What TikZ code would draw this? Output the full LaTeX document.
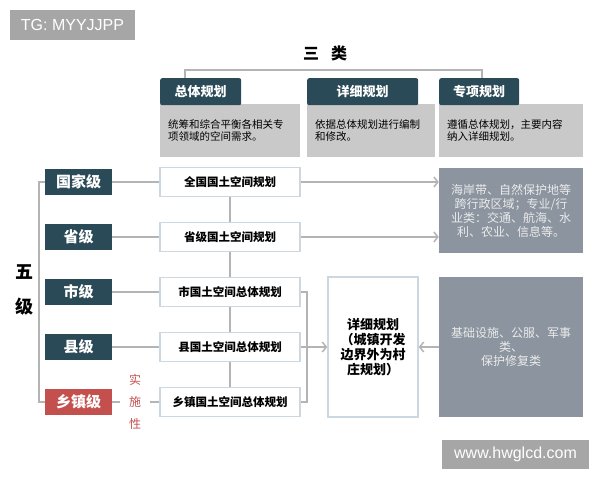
\documentclass[tikz,border=0pt]{standalone}
\usepackage{fontspec}
\setmainfont{Noto Sans CJK SC}
\newfontfamily\latinsans{Liberation Sans}
\usepackage{tikz}
\usetikzlibrary{arrows.meta}

\definecolor{darkteal}{HTML}{2B4A57}
\definecolor{brickred}{HTML}{C4504E}
\definecolor{descgray}{HTML}{C9C9C9}
\definecolor{slategray}{HTML}{8B949F}
\definecolor{boxline}{HTML}{CDD7E0}
\definecolor{wiregray}{HTML}{B4B4B4}
\definecolor{wmgray}{HTML}{A6A6A6}

\begin{document}
\begin{tikzpicture}[x=1pt,y=-1pt,
    lvbox/.style={fill=darkteal, text=white, font=\fontsize{15}{17}\selectfont\bfseries, minimum width=67pt, minimum height=26pt, inner sep=0pt},
    planbox/.style={draw=boxline, line width=1.5pt, fill=white, font=\fontsize{11.5}{13}\selectfont\bfseries, minimum width=140pt, minimum height=29pt, inner sep=0pt},
    tabbox/.style={fill=darkteal, text=white, font=\fontsize{13}{15}\selectfont\bfseries, minimum height=27pt, inner sep=0pt, rounded corners=2pt, anchor=north west},
    descbox/.style={fill=descgray, font=\fontsize{10.5}{12}\selectfont, minimum height=53pt, inner xsep=8pt, align=left, anchor=north west},
    sidebox/.style={fill=slategray, text=white!92!black, font=\fontsize{12}{14}\selectfont, minimum width=144pt, align=center, inner sep=0pt},
    conn/.style={draw=wiregray, line width=1.5pt},
    wmark/.style={fill=wmgray, text=white, font=\latinsans\fontsize{16}{18}\selectfont, inner sep=0pt},
    >={Straight Barb[length=4pt,width=10pt]}
]
    \useasboundingbox (0,0) rectangle (600,480);

    % Watermarks
    \node[wmark, minimum width=125pt, minimum height=30pt] (tg) at (72.5,25) {TG: MYYJJPP};
    \node[wmark, minimum width=147pt, minimum height=29pt] (web) at (515.5,454.5) {www.hwglcd.com};

    % Three categories
    \node[font=\fontsize{16}{18}\selectfont\bfseries] (sanlei) at (325,53) {三\hspace{12pt}类};
    \node[descbox, text width=124pt] (d1) at (160,104) {统筹和综合平衡各相关专\\项领域的空间需求。};
    \node[descbox, text width=112pt] (d2) at (307,104) {依据总体规划进行编制\\和修改。};
    \node[descbox, text width=128pt] (d3) at (439,104) {遵循总体规划，主要内容\\纳入详细规划。};
    \node[tabbox, minimum width=81pt] (t1) at (160,78) {总体规划};
    \node[tabbox, minimum width=111pt] (t2) at (307,78) {详细规划};
    \node[tabbox, minimum width=80pt] (t3) at (439,78) {专项规划};
    \draw[conn] ([xshift=25pt]t1.north west) -- ++(0,-8) -| ([xshift=43pt]t3.north west);

    % Five levels
    \node[font=\fontsize{18}{35}\selectfont\bfseries, align=center] (wuji) at (24,290) {五\\级};
    \node[lvbox] (gj) at (78.5,182) {国家级};
    \node[lvbox] (sj) at (78.5,237) {省级};
    \node[lvbox] (shj) at (78.5,292) {市级};
    \node[lvbox] (xj) at (78.5,347) {县级};
    \node[lvbox, fill=brickred] (xzj) at (78.5,402) {乡镇级};
    \draw[conn] (gj.west) -- ++(-6,0) |- (xzj.west);

    % Plans per level
    \node[planbox] (qgp) at (230,182) {全国国土空间规划};
    \node[planbox] (sjp) at (230,237) {省级国土空间规划};
    \node[planbox] (shp) at (230,292) {市国土空间总体规划};
    \node[planbox] (xp) at (230,347) {县国土空间总体规划};
    \node[planbox] (xzp) at (230,402) {乡镇国土空间总体规划};
    \node[text=brickred, font=\fontsize{12}{22}\selectfont, align=center, inner xsep=9pt] (ssx) at (135,402) {实\\施\\性};

    \draw[conn] (gj) -- (qgp);
    \draw[conn] (sj) -- (sjp);
    \draw[conn] (shj) -- (shp);
    \draw[conn] (xj) -- (xp);
    \draw[conn] (xzj.east) -- (xzj.east -| ssx.west);
    \draw[conn] (ssx.east |- xzp.west) -- (xzp.west);
    \draw[conn] (qgp) -- (sjp);
    \draw[conn] (sjp) -- (shp);
    \draw[conn] (shp) -- (xp);
    \draw[conn] (xp) -- (xzp);

    % Detailed and special plans
    \node[planbox, minimum width=90pt, minimum height=140pt, font=\fontsize{13}{15}\selectfont\bfseries, align=center] (xxgh) at (373,347) {详细规划\\（城镇开发\\边界外为村\\庄规划）};
    \node[sidebox, minimum height=85pt] (hab) at (511,210.5) {海岸带、自然保护地等\\跨行政区域；专业/行\\业类：交通、航海、水\\利、农业、信息等。};
    \node[sidebox, minimum height=140pt] (jcss) at (511,347) {基础设施、公服、军事\\类、\\保护修复类};

    \draw[conn,->] (qgp.east) -- (qgp.east -| hab.west);
    \draw[conn,->] (sjp.east) -- (sjp.east -| hab.west);
    \draw[conn] (shp.east) -- ++(6,0) |- (xzp.east);
    \draw[conn,->] (xp.east) -- (xp.east -| xxgh.west);
    \draw[conn,->] (jcss.west) -- (jcss.west -| xxgh.east);
\end{tikzpicture}
\end{document}
